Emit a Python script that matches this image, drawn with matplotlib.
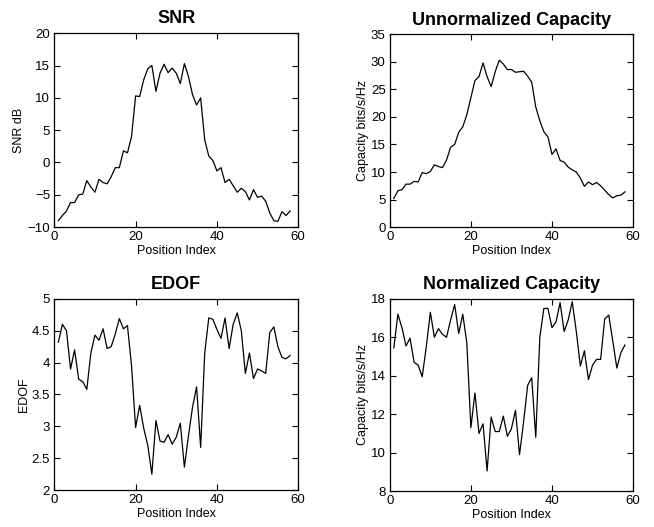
import matplotlib
matplotlib.use("Agg")
import matplotlib.pyplot as plt
import numpy as np

plt.rcParams['font.family'] = ['Liberation Sans', 'DejaVu Sans']

# position index along the route
position = np.arange(1, 59)

snr_db = [-9.0, -8.2, -7.5, -6.2, -6.2, -5.0, -4.9, -2.8, -3.8, -4.6,
          -2.6, -3.1, -3.3, -2.2, -0.8, -0.8, 1.8, 1.5, 4.0, 10.3,
          10.2, 12.8, 14.5, 15.0, 11.0, 13.8, 15.2, 13.9, 14.6, 13.8,
          12.2, 15.3, 13.3, 10.5, 8.9, 10.0, 3.5, 1.0, 0.3, -1.3,
          -0.8, -3.1, -2.6, -3.6, -4.6, -4.0, -4.5, -5.8, -4.2, -5.4,
          -5.2, -6.0, -7.8, -9.0, -9.1, -7.6, -8.2, -7.5]

unnorm_cap = [5.2, 6.6, 6.8, 7.8, 7.8, 8.3, 8.2, 9.9, 9.7, 10.1,
              11.3, 11.0, 10.8, 12.2, 14.5, 15.0, 17.2, 18.2, 20.4, 23.5,
              26.6, 27.3, 29.8, 27.3, 25.5, 28.2, 30.3, 29.6, 28.6, 28.6,
              28.1, 28.2, 28.3, 27.4, 26.3, 21.8, 19.3, 17.3, 16.4, 13.2,
              14.2, 12.1, 11.8, 10.9, 10.4, 10.0, 8.9, 7.4, 8.2, 7.7,
              8.1, 7.5, 6.7, 5.9, 5.3, 5.7, 5.8, 6.4]

edof = [4.32, 4.60, 4.50, 3.90, 4.20, 3.74, 3.70, 3.58, 4.15, 4.43,
        4.35, 4.53, 4.22, 4.25, 4.45, 4.69, 4.53, 4.58, 3.95, 2.98,
        3.33, 2.97, 2.70, 2.25, 3.09, 2.77, 2.75, 2.87, 2.72, 2.83,
        3.05, 2.36, 2.85, 3.30, 3.62, 2.67, 4.15, 4.70, 4.68, 4.52,
        4.38, 4.70, 4.22, 4.60, 4.78, 4.50, 3.83, 4.15, 3.75, 3.90,
        3.87, 3.83, 4.47, 4.56, 4.25, 4.08, 4.06, 4.11]

norm_cap = [15.45, 17.2, 16.5, 15.55, 15.95, 14.7, 14.55, 13.95, 15.5, 17.3,
            16.0, 16.45, 16.15, 16.0, 16.9, 17.7, 16.2, 17.2, 15.7, 11.3,
            13.1, 11.0, 11.5, 9.05, 11.85, 11.1, 11.1, 11.9, 10.85, 11.25,
            12.2, 9.9, 11.6, 13.5, 13.9, 10.8, 16.0, 17.5, 17.5, 16.5,
            16.8, 17.8, 16.3, 16.9, 17.85, 16.3, 14.5, 15.3, 13.8, 14.55,
            14.85, 14.85, 16.95, 17.15, 15.8, 14.4, 15.2, 15.6]

panels = [
    ("SNR", "SNR dB", snr_db, (-10, 20), np.arange(-10, 21, 5)),
    ("Unnormalized Capacity", "Capacity bits/s/Hz", unnorm_cap, (0, 35), np.arange(0, 36, 5)),
    ("EDOF", "EDOF", edof, (2, 5), np.arange(2, 5.01, 0.5)),
    ("Normalized Capacity", "Capacity bits/s/Hz", norm_cap, (8, 18), np.arange(8, 19, 2)),
]

# axes boxes in figure fractions [left, bottom, width, height]
boxes = [
    [0.083, 0.569, 0.373, 0.368],
    [0.596, 0.569, 0.372, 0.366],
    [0.083, 0.070, 0.373, 0.363],
    [0.596, 0.068, 0.372, 0.365],
]

fig = plt.figure(figsize=(6.54, 5.27), dpi=100)

for (title, ylabel, values, ylim, yticks), box in zip(panels, boxes):
    ax = fig.add_axes(box)
    ax.plot(position, values, color="black", linewidth=0.9)
    ax.set_xlim(0, 60)
    ax.set_ylim(*ylim)
    ax.set_xticks([0, 20, 40, 60])
    ax.set_yticks(yticks)
    ax.yaxis.set_major_formatter(matplotlib.ticker.FuncFormatter(lambda v, p: f"{v:g}".replace("-", "\u2212")))
    ax.tick_params(direction="in", top=True, right=True, labelsize=9.5, length=4, width=0.8, pad=3)
    for s in ax.spines.values():
        s.set_linewidth(0.9)
    ax.set_title(title, fontsize=13, fontweight="bold", pad=7)
    ax.set_xlabel("Position Index", fontsize=9, labelpad=1)
    ax.set_ylabel(ylabel, fontsize=9, labelpad=1.5)

fig.savefig("out.png", dpi=100)
